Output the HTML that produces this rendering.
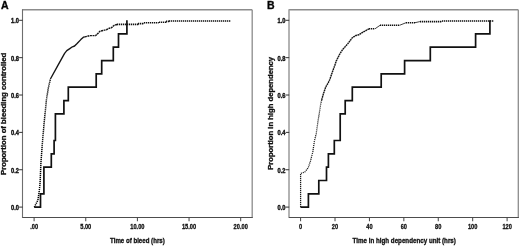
<!DOCTYPE html>
<html><head><meta charset="utf-8"><title>Figure</title>
<style>html,body{margin:0;padding:0;background:#fff;} svg{display:block;}</style>
</head><body>
<svg width="520" height="246" viewBox="0 0 520 246">
<style>
text { font-family: 'Liberation Sans', Arial, sans-serif; font-weight: bold; fill: #111; stroke:#111; stroke-width:0.35px; }
.tk { font-size: 7.1px; stroke-width:0.3px; }
.tky { font-size: 6.8px; stroke-width:0.4px; }
.tt { font-size: 7.65px; }
.pl { font-size: 10.5px; fill:#000; }
</style>
<rect width="520" height="246" fill="#fff"/>
<text x="1.05" y="9.45" class="pl">A</text>
<text x="267.0" y="9.45" class="pl">B</text>
<line x1="22.5" y1="9.85" x2="252.2" y2="9.85" stroke="#8c8c8c" stroke-width="1.5"/>
<line x1="252.2" y1="9.85" x2="252.2" y2="217.45" stroke="#8c8c8c" stroke-width="1.3"/>
<line x1="22.5" y1="9.15" x2="22.5" y2="217.95" stroke="#6e6e6e" stroke-width="1.1"/>
<line x1="22.5" y1="217.45" x2="252.79999999999998" y2="217.45" stroke="#4d4d4d" stroke-width="1.05"/>
<line x1="289.0" y1="9.85" x2="518.3" y2="9.85" stroke="#8c8c8c" stroke-width="1.5"/>
<line x1="518.3" y1="9.85" x2="518.3" y2="217.45" stroke="#8c8c8c" stroke-width="1.3"/>
<line x1="289.0" y1="9.15" x2="289.0" y2="217.95" stroke="#9a9a9a" stroke-width="1.5"/>
<line x1="289.0" y1="217.45" x2="518.9" y2="217.45" stroke="#4d4d4d" stroke-width="1.05"/>
<line x1="19.099999999999998" y1="207.10" x2="22.7" y2="207.10" stroke="#333" stroke-width="1"/>
<text transform="translate(18.9,209.95) scale(0.84,1)" text-anchor="end" class="tky">0.0</text>
<line x1="19.099999999999998" y1="169.74" x2="22.7" y2="169.74" stroke="#333" stroke-width="1"/>
<text transform="translate(18.9,172.59) scale(0.84,1)" text-anchor="end" class="tky">0.2</text>
<line x1="19.099999999999998" y1="132.38" x2="22.7" y2="132.38" stroke="#333" stroke-width="1"/>
<text transform="translate(18.9,135.23) scale(0.84,1)" text-anchor="end" class="tky">0.4</text>
<line x1="19.099999999999998" y1="95.02" x2="22.7" y2="95.02" stroke="#333" stroke-width="1"/>
<text transform="translate(18.9,97.87) scale(0.84,1)" text-anchor="end" class="tky">0.6</text>
<line x1="19.099999999999998" y1="57.66" x2="22.7" y2="57.66" stroke="#333" stroke-width="1"/>
<text transform="translate(18.9,60.51) scale(0.84,1)" text-anchor="end" class="tky">0.8</text>
<line x1="19.099999999999998" y1="20.30" x2="22.7" y2="20.30" stroke="#333" stroke-width="1"/>
<text transform="translate(18.9,23.15) scale(0.84,1)" text-anchor="end" class="tky">1.0</text>
<line x1="285.59999999999997" y1="207.10" x2="289.2" y2="207.10" stroke="#333" stroke-width="1"/>
<text transform="translate(285.4,209.95) scale(0.84,1)" text-anchor="end" class="tky">0.0</text>
<line x1="285.59999999999997" y1="169.74" x2="289.2" y2="169.74" stroke="#333" stroke-width="1"/>
<text transform="translate(285.4,172.59) scale(0.84,1)" text-anchor="end" class="tky">0.2</text>
<line x1="285.59999999999997" y1="132.38" x2="289.2" y2="132.38" stroke="#333" stroke-width="1"/>
<text transform="translate(285.4,135.23) scale(0.84,1)" text-anchor="end" class="tky">0.4</text>
<line x1="285.59999999999997" y1="95.02" x2="289.2" y2="95.02" stroke="#333" stroke-width="1"/>
<text transform="translate(285.4,97.87) scale(0.84,1)" text-anchor="end" class="tky">0.6</text>
<line x1="285.59999999999997" y1="57.66" x2="289.2" y2="57.66" stroke="#333" stroke-width="1"/>
<text transform="translate(285.4,60.51) scale(0.84,1)" text-anchor="end" class="tky">0.8</text>
<line x1="285.59999999999997" y1="20.30" x2="289.2" y2="20.30" stroke="#333" stroke-width="1"/>
<text transform="translate(285.4,23.15) scale(0.84,1)" text-anchor="end" class="tky">1.0</text>
<line x1="34.10" y1="217.45" x2="34.10" y2="221.25" stroke="#444" stroke-width="1"/>
<text transform="translate(34.10,228.5) scale(0.8,1)" text-anchor="middle" class="tk">.00</text>
<line x1="85.75" y1="217.45" x2="85.75" y2="221.25" stroke="#444" stroke-width="1"/>
<text transform="translate(85.75,228.5) scale(0.8,1)" text-anchor="middle" class="tk">5.00</text>
<line x1="137.40" y1="217.45" x2="137.40" y2="221.25" stroke="#444" stroke-width="1"/>
<text transform="translate(137.40,228.5) scale(0.8,1)" text-anchor="middle" class="tk">10.00</text>
<line x1="189.05" y1="217.45" x2="189.05" y2="221.25" stroke="#444" stroke-width="1"/>
<text transform="translate(189.05,228.5) scale(0.8,1)" text-anchor="middle" class="tk">15.00</text>
<line x1="240.70" y1="217.45" x2="240.70" y2="221.25" stroke="#444" stroke-width="1"/>
<text transform="translate(240.70,228.5) scale(0.8,1)" text-anchor="middle" class="tk">20.00</text>
<line x1="300.60" y1="217.45" x2="300.60" y2="221.25" stroke="#444" stroke-width="1"/>
<text transform="translate(300.60,228.5) scale(0.8,1)" text-anchor="middle" class="tk">0</text>
<line x1="335.02" y1="217.45" x2="335.02" y2="221.25" stroke="#444" stroke-width="1"/>
<text transform="translate(335.02,228.5) scale(0.8,1)" text-anchor="middle" class="tk">20</text>
<line x1="369.43" y1="217.45" x2="369.43" y2="221.25" stroke="#444" stroke-width="1"/>
<text transform="translate(369.43,228.5) scale(0.8,1)" text-anchor="middle" class="tk">40</text>
<line x1="403.85" y1="217.45" x2="403.85" y2="221.25" stroke="#444" stroke-width="1"/>
<text transform="translate(403.85,228.5) scale(0.8,1)" text-anchor="middle" class="tk">60</text>
<line x1="438.26" y1="217.45" x2="438.26" y2="221.25" stroke="#444" stroke-width="1"/>
<text transform="translate(438.26,228.5) scale(0.8,1)" text-anchor="middle" class="tk">80</text>
<line x1="472.68" y1="217.45" x2="472.68" y2="221.25" stroke="#444" stroke-width="1"/>
<text transform="translate(472.68,228.5) scale(0.8,1)" text-anchor="middle" class="tk">100</text>
<line x1="507.10" y1="217.45" x2="507.10" y2="221.25" stroke="#444" stroke-width="1"/>
<text transform="translate(507.10,228.5) scale(0.8,1)" text-anchor="middle" class="tk">120</text>
<text transform="translate(137.4,242.8) scale(0.776,1)" text-anchor="middle" class="tt" style="font-size:7.9px">Time of bleed (hrs)</text>
<text transform="translate(404.2,242.8) scale(0.789,1)" text-anchor="middle" class="tt" style="font-size:7.9px">Time in high dependency unit (hrs)</text>
<text transform="translate(6.2,113.85) rotate(-90) scale(1,0.86)" text-anchor="middle" class="tt" style="font-size:7.74px">Proportion of bleeding controlled</text>
<text transform="translate(272.7,113.4) rotate(-90) scale(1,0.86)" text-anchor="middle" class="tt" style="font-size:7.66px">Proportion in high dependency</text>
<path d="M34.3,207.2 L37.9,200.1 L39.1,192.2 L39.9,184.9 L40.2,180 L40.9,163 L42.2,145.5 L44.0,124.3 L46.4,100 L48.2,88.7 L50.4,79" fill="none" stroke="#000" stroke-width="1.5" stroke-dasharray="1.2 0.8"/>
<path d="M50.4,79 L57.5,66.2 L64.6,53.4 L66.8,50.6 L69.8,48.6 L72.4,46.8 L74.6,46 L77.1,43.5 L80.8,39.6 L83.4,37.2 L84.9,36.9" fill="none" stroke="#151515" stroke-width="1.35" stroke-linejoin="round"/>
<path d="M84.9,36.9 L89.9,35.6 L95.7,35.6 L100.1,31.2 L106.4,29.7 L109.4,28.2 L111.3,27.8 L114.2,25.3 L117.2,24.5" fill="none" stroke="#151515" stroke-width="1.45" stroke-dasharray="2 0.6"/>
<line x1="117" y1="24.4" x2="138.5" y2="24.4" stroke="#111" stroke-width="1.6" stroke-dasharray="1.3 0.7"/>
<line x1="138.5" y1="24.4" x2="138.5" y2="23.6" stroke="#111" stroke-width="1" opacity="0.8"/>
<line x1="138" y1="23.6" x2="143.8" y2="23.6" stroke="#111" stroke-width="1.6" stroke-dasharray="1.3 0.7"/>
<line x1="143.75" y1="23.6" x2="143.75" y2="22.8" stroke="#111" stroke-width="1" opacity="0.8"/>
<line x1="144" y1="22.8" x2="158.7" y2="22.8" stroke="#111" stroke-width="1.6" stroke-dasharray="1.3 0.7"/>
<line x1="158.7" y1="22.8" x2="158.7" y2="22.2" stroke="#111" stroke-width="1" opacity="0.8"/>
<line x1="159" y1="22.2" x2="166.3" y2="22.2" stroke="#111" stroke-width="1.6" stroke-dasharray="1.3 0.7"/>
<line x1="166.3" y1="22.2" x2="166.3" y2="21.4" stroke="#111" stroke-width="1" opacity="0.8"/>
<line x1="166" y1="21.4" x2="169.2" y2="21.4" stroke="#111" stroke-width="1.6" stroke-dasharray="1.3 0.7"/>
<line x1="169.2" y1="21.4" x2="169.2" y2="21.0" stroke="#111" stroke-width="1" opacity="0.8"/>
<line x1="169" y1="21.0" x2="231.0" y2="21.0" stroke="#111" stroke-width="1.6" stroke-dasharray="1.3 0.7"/>
<path d="M34.2,207.2 H40.5 V193.9 H43.9 V167.2 H51.3 V153.9 H54.1 V140.5 H55.4 V113.9 H63.9 V100.6 H68.3 V87.2 H96.2 V73.9 H101.7 V60.6 H113.3 V47.2 H118.5 V33.9 H126.9 V20.3" fill="none" stroke="#111" stroke-width="1.7"/>
<path d="M300.6,207.2 L300.6,173.5 L304.8,172 L308.2,167.8 L310.5,161 L312.8,151.9 L314.4,141 L316.2,133.7 L317.5,124.7 L318.6,117.5 L320.9,103 L321.7,100" fill="none" stroke="#1a1a1a" stroke-width="1.25" stroke-dasharray="1.1 0.9"/>
<path d="M321.7,100 L323.3,94.1 L325.8,86.8 L328.2,82.8 L329.8,79.5 L332.3,72.2 L334.7,65.7 L336.2,61.1 L339.9,53.8 L342.8,49.4 L347.9,43.6 L352.3,37.7 L356,35.5 L358.9,34.8 L363.3,31.9 L369.2,28.8" fill="none" stroke="#151515" stroke-width="1.4" stroke-dasharray="1.8 0.5"/>
<line x1="369" y1="28.8" x2="375.0" y2="28.8" stroke="#111" stroke-width="1.6" stroke-dasharray="1.3 0.7"/>
<line x1="375" y1="28.8" x2="380.2" y2="25.2" stroke="#111" stroke-width="1" opacity="0.8"/>
<line x1="380" y1="25.2" x2="399.8" y2="25.2" stroke="#111" stroke-width="1.6" stroke-dasharray="1.3 0.7"/>
<line x1="399.8" y1="25.2" x2="406.1" y2="22.7" stroke="#111" stroke-width="1" opacity="0.8"/>
<line x1="406" y1="22.7" x2="415.0" y2="22.7" stroke="#111" stroke-width="1.6" stroke-dasharray="1.3 0.7"/>
<line x1="415" y1="22.7" x2="419.9" y2="21.6" stroke="#111" stroke-width="1" opacity="0.8"/>
<line x1="420" y1="21.6" x2="442.0" y2="21.6" stroke="#111" stroke-width="1.6" stroke-dasharray="1.3 0.7"/>
<line x1="442" y1="21.6" x2="442" y2="21.0" stroke="#111" stroke-width="1" opacity="0.8"/>
<line x1="442" y1="21.0" x2="493.4" y2="21.0" stroke="#111" stroke-width="1.6" stroke-dasharray="1.3 0.7"/>
<path d="M300.6,207.2 H308.4 V193.9 H318.8 V180.5 H326.5 V167.2 H328.4 V153.9 H334.3 V140.5 H340.2 V113.9 H345.2 V100.6 H352.3 V87.2 H381.2 V73.9 H404.6 V60.6 H430.3 V47.2 H475.6 V33.9 H489.9 V20.3" fill="none" stroke="#111" stroke-width="1.7"/>
</svg>
</body></html>
